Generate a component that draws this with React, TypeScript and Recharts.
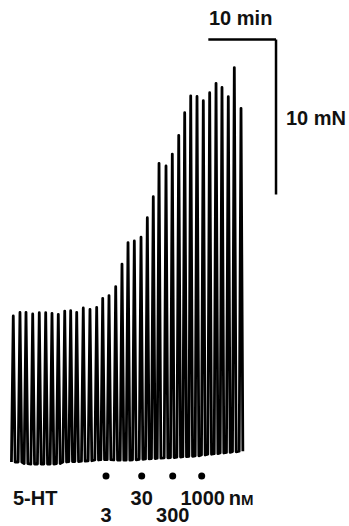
import { ComposedChart, Customized, Line, ReferenceDot, ReferenceLine, XAxis, YAxis } from 'recharts';

// isometric tension trace, time in min, force in mN
const spikeTimes = [
    1.96, 2.95, 3.84, 4.83, 5.8, 6.75, 7.68, 8.61, 9.56, 10.44, 11.33, 12.3, 13.29, 14.28, 15.17, 16.1, 17.09, 18.02, 18.91,
    19.84, 20.83, 21.76, 22.64, 23.49, 24.52, 25.45, 26.4, 27.28, 28.17, 29.1, 30.03, 30.97, 31.91, 32.79, 33.72, 34.61, 35.6,
];
const peakForce = [
    9.42, 9.65, 9.66, 9.55, 9.63, 9.63, 9.59, 9.53, 9.74, 9.76, 9.66, 9.94, 9.85, 9.98, 10.56, 10.74, 11.32, 12.77, 14.16,
    14.26, 14.5, 15.76, 17.12, 19.27, 19.1, 19.87, 21.08, 22.54, 23.63, 23.59, 23.31, 23.83, 24.43, 24.17, 23.57, 25.45, 22.82,
];
const baseForce = [
    0.0, 0.0, -0.1, -0.13, -0.13, -0.13, -0.13, -0.1, 0.0, 0.03, 0.03, 0.05, 0.08, 0.13, 0.15, 0.15, 0.13, 0.12, 0.12, 0.14,
    0.17, 0.2, 0.22, 0.25, 0.27, 0.29, 0.32, 0.34, 0.37, 0.4, 0.45, 0.5, 0.54, 0.58, 0.62, 0.66, 0.7,
];

const doseTimes = [15.66, 20.93, 25.51, 29.79];
const doseLabels = ['3', '30', '300', '1000'];
const doseRows = [2, 1, 2, 1];
const DRUG = '5-HT';

const SCALE_TIME = 10; // min
const SCALE_FORCE = 10; // mN
const SCALE_START = 30.77;
const SCALE_TOP = 27.26;

const HALF_WIDTH = 0.27;
const MARKER_FORCE = -0.9;

const WIDTH = 349;
const HEIGHT = 526;
const FONT = '"Liberation Sans", Arial, sans-serif';

const trace = spikeTimes.flatMap((t, i) => [
    { t: t - HALF_WIDTH, force: baseForce[i] },
    { t, force: peakForce[i] },
    { t: t + HALF_WIDTH, force: baseForce[i] },
]);

function DoseMarker(props: any) {
    const { cx, cy, label, row } = props;
    const dy = row === 1 ? 29 : 46;
    const isLast = label === '1000';
    return (
        <g>
            <circle cx={cx} cy={cy} r={3.5} fill="#000" />
            <text x={cx + (isLast ? 1 : 0)} y={cy + dy} textAnchor="middle" fontFamily={FONT} fontWeight="bold" fontSize={20} fill="#111">
                {label}
            </text>
            {isLast && (
                <text x={cx + 27} y={cy + dy} fontFamily={FONT} fontWeight="bold" fontSize={20} fill="#111">
                    n<tspan fontSize={15}>M</tspan>
                </text>
            )}
        </g>
    );
}

function Annotations() {
    const style = { fontFamily: FONT, fontWeight: 'bold' as const, fontSize: 20, fill: '#111' };
    return (
        <g>
            <text x={209} y={25} {...style}>
                {SCALE_TIME} min
            </text>
            <text x={286} y={125} {...style}>
                {SCALE_FORCE} mN
            </text>
            <text x={13} y={505} {...style}>
                {DRUG}
            </text>
        </g>
    );
}

export default function App() {
    return (
        <div style={{ position: 'absolute', left: 0, top: 0, background: '#fff' }}>
            <ComposedChart width={WIDTH} height={HEIGHT} data={trace} margin={{ top: 0, right: 0, bottom: 0, left: 0 }}>
                <XAxis type="number" dataKey="t" domain={[0, 51.55]} allowDataOverflow hide />
                <YAxis type="number" domain={[-4.13, 29.81]} allowDataOverflow hide />
                <Line
                    type="linear"
                    dataKey="force"
                    stroke="#000"
                    strokeWidth={2.8}
                    strokeLinejoin="round"
                    dot={false}
                    activeDot={false}
                    isAnimationActive={false}
                />
                {doseTimes.map((t, i) => (
                    <ReferenceDot
                        key={t}
                        x={t}
                        y={MARKER_FORCE}
                        ifOverflow="visible"
                        shape={(p: any) => <DoseMarker cx={p.cx} cy={p.cy} label={doseLabels[i]} row={doseRows[i]} />}
                    />
                ))}
                <ReferenceLine
                    segment={[
                        { x: SCALE_START, y: SCALE_TOP },
                        { x: SCALE_START + SCALE_TIME, y: SCALE_TOP },
                    ]}
                    stroke="#000"
                    strokeWidth={2.5}
                    ifOverflow="visible"
                />
                <ReferenceLine
                    segment={[
                        { x: SCALE_START + SCALE_TIME, y: SCALE_TOP },
                        { x: SCALE_START + SCALE_TIME, y: SCALE_TOP - SCALE_FORCE },
                    ]}
                    stroke="#000"
                    strokeWidth={2.5}
                    ifOverflow="visible"
                />
                <Customized component={<Annotations />} />
            </ComposedChart>
        </div>
    );
}
